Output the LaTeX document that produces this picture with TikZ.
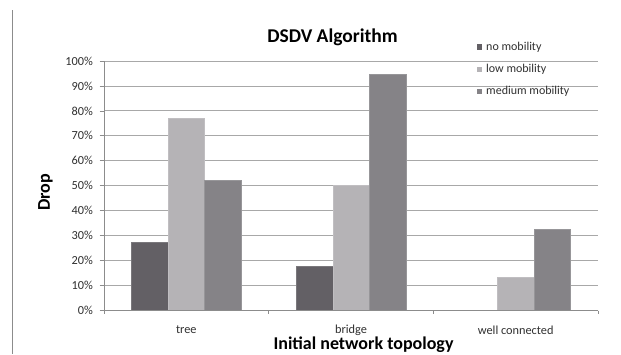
\documentclass[tikz,border=0pt]{standalone}
\usepackage{fontspec}
\setmainfont{Carlito}
\definecolor{cdark}{HTML}{636065}
\definecolor{clight}{HTML}{B5B3B6}
\definecolor{cmed}{HTML}{858387}
\definecolor{cgrid}{HTML}{A8A8A8}
\definecolor{caxis}{HTML}{8C8C8C}
\definecolor{ctext}{HTML}{303030}
\tikzset{
  gridline/.style={draw=cgrid, line width=0.9pt},
  axisline/.style={draw=caxis, line width=0.8pt},
  ticklab/.style={anchor=east, inner sep=0pt, text=ctext, font=\fontsize{12.3}{14}\selectfont},
  catlab/.style={inner sep=0pt, text=ctext, font=\fontsize{12.3}{14}\selectfont},
  leglab/.style={anchor=west, inner sep=0pt, text=ctext, font=\fontsize{12}{14}\selectfont},
  titlelab/.style={inner sep=0pt, text=black, font=\bfseries\fontsize{19.5}{22}\selectfont},
  axtitle/.style={inner sep=0pt, text=black, font=\bfseries\fontsize{18}{20}\selectfont},
  barbox/.style={line width=0.4pt},
}
\begin{document}
\begin{tikzpicture}[x=1pt,y=-1pt]
\useasboundingbox (0,0) rectangle (621,354);
\fill[white] (0,0) rectangle (621,354);
% left frame line
\coordinate (ftop) at (12,10);
\coordinate (fbot) at (12,354);
\draw[axisline] (ftop) -- (fbot);
% grid lines
\foreach \i in {1,...,10}{
  \draw[gridline] (104,{310.5-24.95*\i}) -- (598,{310.5-24.95*\i});
}
% bars
\foreach \k/\va/\vb/\vc in {0/27.3/77/52.2, 1/17.6/50.3/94.6, 2/0/13.5/32.6}{
  \pgfmathsetmacro{\L}{104+164.667*\k+27.44}
  \pgfmathsetmacro{\w}{36.59}
  \ifdim \va pt>0pt
  \fill[cdark, draw=cdark!85!white, barbox] (\L,310.5) rectangle ({\L+\w},{310.5-2.495*\va});
  \fi
  \fill[clight, draw=clight!85!white, barbox] ({\L+\w},310.5) rectangle ({\L+2*\w},{310.5-2.495*\vb});
  \fill[cmed, draw=cmed!85!white, barbox] ({\L+2*\w},310.5) rectangle ({\L+3*\w},{310.5-2.495*\vc});
}
% axes
\coordinate (yb) at (104,310.5);
\coordinate (yt) at (104,61);
\coordinate (xr) at (598,310.5);
\draw[axisline] (yt) -- (yb) -- (xr);
\foreach \i in {0,...,10}{
  \draw[axisline] (99.5,{310.5-24.95*\i}) -- (104,{310.5-24.95*\i});
  \pgfmathtruncatemacro{\p}{10*\i}
  \node[ticklab] (yl\i) at (93,{310.5-24.95*\i}) {\p\%};
}
\foreach \xx in {104,268.67,433.33,598}{
  \draw[axisline] (\xx,310.5) -- (\xx,314);
}
% category labels
\node[catlab] (ctree) at (186.3,330) {tree};
\node[catlab] (cbridge) at (351,330) {bridge};
\node[catlab] (cwell) at (515.7,330) {well connected};
% titles
\node[titlelab] (title) at (332.5,37) {DSDV Algorithm};
\node[axtitle] (xtitle) at (363.5,345) {Initial network topology};
\node[axtitle, rotate=90] (ytitle) at (45.5,192.5) {Drop};
% legend
\fill[cdark] (476.7,44.2) rectangle (482,49.5);
\fill[clight] (476.7,66.8) rectangle (482,72.1);
\fill[cmed] (476.7,88.5) rectangle (482,93.8);
\node[leglab] (l1) at (486,47) {no mobility};
\node[leglab] (l2) at (486,69.5) {low mobility};
\node[leglab] (l3) at (486,91) {medium mobility};
\end{tikzpicture}
\end{document}
